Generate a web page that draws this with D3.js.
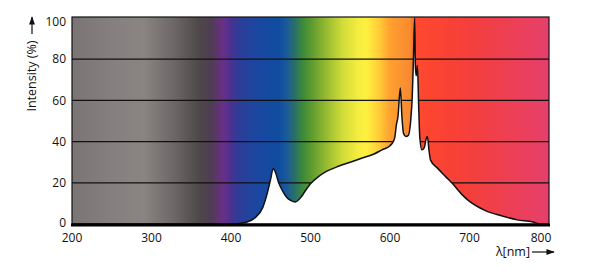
<!DOCTYPE html>
<html>
<head>
<meta charset="utf-8">
<script src="https://cdn.jsdelivr.net/npm/d3@7"></script>
<style>
  body { margin: 0; background: #fff; }
  svg text { font-family: "Open Sans", "Noto Sans", sans-serif; fill: #111; }
</style>
</head>
<body>
<svg id="chart" width="600" height="280"></svg>
<script>
// spectrum samples
const wavelengths = [200, 400, 410, 420, 430, 440, 445, 450, 453, 456, 460, 465, 470, 475, 481, 488, 495, 500,
  510, 520, 535, 550, 565, 580, 590, 600, 604, 606, 608, 610, 613, 615, 617, 620, 623, 626, 628, 629.5, 631,
  632, 633, 634.5, 636, 637.5, 640, 643, 646, 647, 649, 651, 660, 670, 680, 690, 700, 710, 720, 740, 760, 780, 788, 800];
const intensity = [0, 0, 0.3, 1, 3, 8, 14, 22, 27, 25, 20, 16, 13, 11.5, 10.7, 13, 17, 19.5,
  23, 25.5, 28, 30, 32, 34, 36, 38, 40, 42, 48, 52, 66, 52, 44, 42.5, 43, 50, 62, 80, 100,
  76, 72, 77, 58, 42, 36, 37, 42, 42.5, 36, 31, 27, 23, 19, 14.5, 11, 8.5, 6.5, 4, 2, 1, 0, 0];

// background spectrum colour stops
const stopNm = [200, 250, 290, 330, 360, 375, 390, 400, 410, 430, 460, 470, 480, 490, 500, 520, 540, 560, 570,
  585, 600, 625, 630, 631, 650, 700, 760, 800];
const stopColor = ["#7a7574", "#85807f", "#8a8583", "#6b6665", "#4e4849", "#4f3d52", "#6a2f88", "#4a3290",
  "#2d3d98", "#1c46a0", "#0f4da0", "#1a5a98", "#2a6e6a", "#3a8a3a", "#5a9830", "#96bb30", "#d0dc38",
  "#f5ec40", "#fff040", "#ffd038", "#ffa030", "#f88a30", "#f07030", "#ff4a30", "#fd4530", "#f43f3c",
  "#ec3f58", "#e5406c"];

const xTicks = [200, 300, 400, 500, 600, 700, 800];
const yTicks = [0, 20, 40, 60, 80, 100];

const svg = d3.select("#chart");
const plotLeft = 72, plotRight = 549, plotTop = 18, plotBottom = 224;

const x = d3.scaleLinear().domain([200, 800]).range([plotLeft, plotRight]);
const y = d3.scaleLinear().domain([0, 100]).range([plotBottom, plotTop]);

const defs = svg.append("defs");
const grad = defs.append("linearGradient")
  .attr("id", "spectrum")
  .attr("gradientUnits", "userSpaceOnUse")
  .attr("x1", x(200)).attr("x2", x(800))
  .attr("y1", 0).attr("y2", 0);
stopNm.forEach((nm, i) => {
  grad.append("stop")
    .attr("offset", (nm - 200) / 600)
    .attr("stop-color", stopColor[i]);
});

svg.append("rect")
  .attr("x", plotLeft).attr("y", plotTop - 1)
  .attr("width", plotRight - plotLeft).attr("height", plotBottom - plotTop + 1)
  .attr("fill", "url(#spectrum)");

// gridlines
svg.append("g")
  .selectAll("line")
  .data(yTicks.filter(d => d > 0 && d < 100))
  .join("line")
  .attr("x1", plotLeft).attr("x2", plotRight)
  .attr("y1", d => y(d)).attr("y2", d => y(d))
  .attr("stroke", "#111")
  .attr("stroke-width", 1.2);

const points = wavelengths.map((w, i) => [w, intensity[i]]);

const area = d3.area()
  .x(d => x(d[0]))
  .y0(plotBottom)
  .y1(d => y(d[1]))
  .curve(d3.curveMonotoneX);

const line = d3.line()
  .x(d => x(d[0]))
  .y(d => y(d[1]))
  .curve(d3.curveMonotoneX);

svg.append("path")
  .attr("d", area(points))
  .attr("fill", "#fff");

svg.append("path")
  .attr("d", line(points))
  .attr("fill", "none")
  .attr("stroke", "#111")
  .attr("stroke-width", 1.5);

// frame and baseline
svg.append("rect")
  .attr("x", plotLeft).attr("y", plotTop - 1)
  .attr("width", plotRight - plotLeft).attr("height", plotBottom - plotTop + 1)
  .attr("fill", "none")
  .attr("stroke", "#111")
  .attr("stroke-width", 1.2);

svg.append("line")
  .attr("x1", plotLeft - 1).attr("x2", plotRight + 1)
  .attr("y1", plotBottom + 1).attr("y2", plotBottom + 1)
  .attr("stroke", "#000")
  .attr("stroke-width", 3);

// tick labels
svg.append("g")
  .selectAll("text")
  .data(yTicks)
  .join("text")
  .attr("x", plotLeft - 6)
  .attr("y", d => y(d) + (d === 100 ? 4 : d === 0 ? -1 : 0))
  .attr("dy", "0.35em")
  .attr("text-anchor", "end")
  .attr("font-size", 12)
  .text(d => d);

svg.append("g")
  .selectAll("text")
  .data(xTicks)
  .join("text")
  .attr("x", d => x(d) + (d === 800 ? -8 : 0))
  .attr("y", 242)
  .attr("text-anchor", "middle")
  .attr("font-size", 12)
  .text(d => d);

// axis titles with arrows
defs.append("marker")
  .attr("id", "arrow")
  .attr("viewBox", "0 0 10 10")
  .attr("refX", 9).attr("refY", 5)
  .attr("markerWidth", 7).attr("markerHeight", 7)
  .attr("orient", "auto")
  .append("path")
  .attr("d", "M0,1.5 L10,5 L0,8.5 Z")
  .attr("fill", "#111");

svg.append("text")
  .attr("transform", "translate(36,76) rotate(-90)")
  .attr("text-anchor", "middle")
  .attr("font-size", 12.5)
  .text("Intensity (%)");

svg.append("line")
  .attr("x1", 32).attr("x2", 32)
  .attr("y1", 34).attr("y2", 17)
  .attr("stroke", "#111")
  .attr("stroke-width", 1.2)
  .attr("marker-end", "url(#arrow)");

svg.append("text")
  .attr("x", 530)
  .attr("y", 256)
  .attr("text-anchor", "end")
  .attr("font-size", 12.5)
  .text("λ[nm]");

svg.append("line")
  .attr("x1", 532).attr("x2", 554)
  .attr("y1", 252).attr("y2", 252)
  .attr("stroke", "#111")
  .attr("stroke-width", 1.2)
  .attr("marker-end", "url(#arrow)");
</script>
</body>
</html>
